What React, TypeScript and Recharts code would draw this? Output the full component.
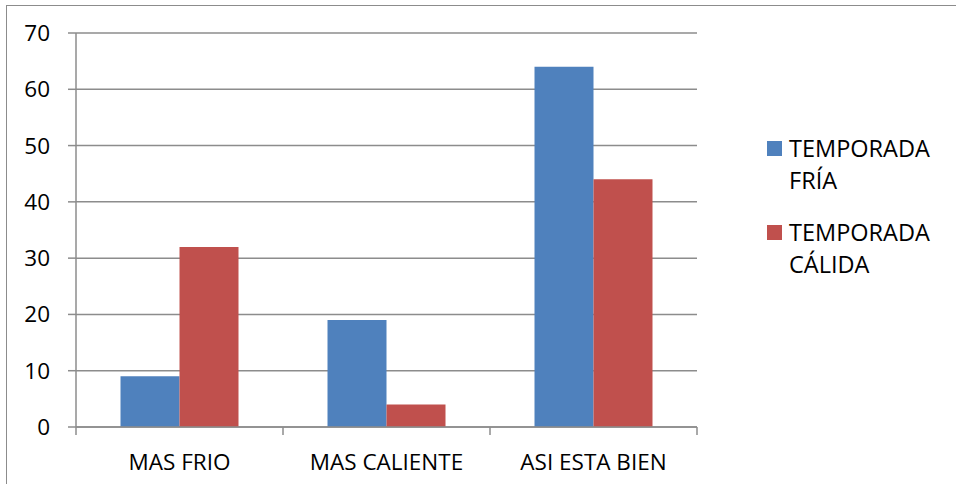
import React from 'react';
import { BarChart, Bar, XAxis, YAxis, CartesianGrid } from 'recharts';

const categories = ['MAS FRIO', 'MAS CALIENTE', 'ASI ESTA BIEN'];
const temporadaFria = [9, 19, 64];
const temporadaCalida = [32, 4, 44];
const yTicks = [0, 10, 20, 30, 40, 50, 60, 70];
const seriesNames = ['TEMPORADA FRÍA', 'TEMPORADA CÁLIDA'];
const seriesColors = ['#4F81BD', '#C0504D'];

const data = categories.map((c, i) => ({
  name: c,
  fria: temporadaFria[i],
  calida: temporadaCalida[i],
}));

const FONT = '"Open Sans", "Liberation Sans", sans-serif';
const GRID = '#8c8c8c';

const XTick = (props: any) => {
  const { x, y, payload, index, width } = props;
  const band = width / categories.length;
  const left = x - band / 2;
  const right = x + band / 2;
  return (
    <g>
      <line x1={left} y1={y} x2={left} y2={y + 8} stroke={GRID} strokeWidth={1.5} />
      {index === categories.length - 1 && (
        <line x1={right} y1={y} x2={right} y2={y + 8} stroke={GRID} strokeWidth={1.5} />
      )}
      <text
        x={x}
        y={y + 34}
        textAnchor="middle"
        dominantBaseline="central"
        fontFamily={FONT}
        fontSize={22.5}
        fill="#000"
      >
        {payload.value}
      </text>
    </g>
  );
};

const LegendBox = () => (
  <div style={{ position: 'absolute', left: 767, top: 132, width: 190, fontFamily: FONT, fontSize: 23.5, color: '#000' }}>
    {seriesNames.map((n, i) => (
      <div key={n} style={{ position: 'relative', marginBottom: 20, paddingLeft: 22, width: 160, lineHeight: '32px' }}>
        <span
          style={{
            position: 'absolute',
            left: 0,
            top: 9,
            width: 15,
            height: 15,
            background: seriesColors[i],
          }}
        />
        {n}
      </div>
    ))}
  </div>
);

export default function App() {
  return (
    <div style={{ position: 'absolute', left: 0, top: 0, width: 956, height: 484, overflow: 'hidden', background: '#fff' }}>
      <div
        style={{
          position: 'absolute',
          left: 6,
          top: 5,
          width: 980,
          height: 500,
          border: '1.5px solid #8c8c8c',
        }}
      />
      <div style={{ position: 'absolute', left: 0, top: 0 }}>
        <BarChart
          width={956}
          height={484}
          data={data}
          margin={{ top: 33, right: 259, bottom: 0, left: 0 }}
          barCategoryGap="21.5%"
          barGap={0}
        >
          <CartesianGrid vertical={false} stroke={GRID} strokeWidth={1.5} />
          <XAxis
            dataKey="name"
            height={57}
            axisLine={{ stroke: GRID, strokeWidth: 1.5 }}
            tickLine={false}
            tickSize={0}
            tickMargin={0}
            tick={<XTick />}
            interval={0}
          />
          <YAxis
            width={76}
            domain={[0, 70]}
            ticks={yTicks}
            interval={0}
            axisLine={{ stroke: GRID, strokeWidth: 1.5 }}
            tickLine={{ stroke: GRID, strokeWidth: 1.5 }}
            tickSize={8}
            tickMargin={18}
            tick={{ fontFamily: FONT, fontSize: 22.5, fill: '#000' }}
          />
          <Bar dataKey="fria" name={seriesNames[0]} fill={seriesColors[0]} isAnimationActive={false} />
          <Bar dataKey="calida" name={seriesNames[1]} fill={seriesColors[1]} isAnimationActive={false} />
        </BarChart>
      </div>
      <LegendBox />
    </div>
  );
}
